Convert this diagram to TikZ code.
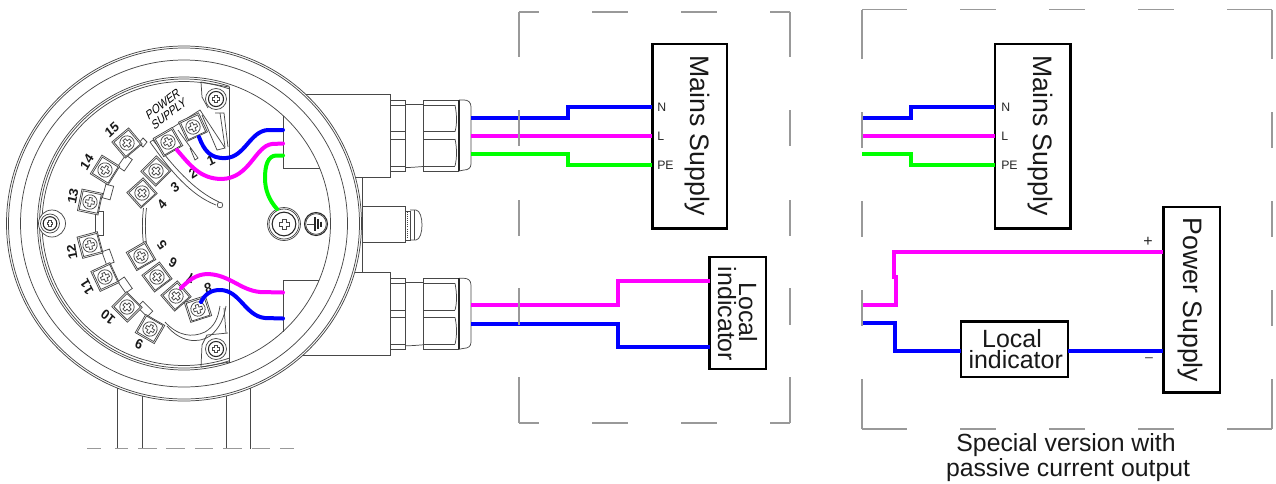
\documentclass[tikz,border=0pt]{standalone}
\usepackage{fontspec}
\setmainfont{Liberation Sans}
\definecolor{wb}{RGB}{0,0,255}
\definecolor{wm}{RGB}{255,0,255}
\definecolor{wg}{RGB}{0,255,0}
\tikzset{
  ln/.style={draw=black!72,line width=0.55pt},
  lnd/.style={draw=black!85,line width=0.8pt},
  frame/.style={draw=black!40,line width=0.85pt},
  wireb/.style={draw=wb,line width=3pt,line join=miter},
  wirem/.style={draw=wm,line width=3pt,line join=miter},
  wireg/.style={draw=wg,line width=3pt,line join=miter},
  wirec/.style={line width=3pt,line cap=round},
  boxn/.style={draw=black,line width=2.1pt,inner sep=0pt,outer sep=0pt,fill=white},
  bigt/.style={font=\fontsize{20}{20}\selectfont,inner sep=0pt,text=black!90},
  midt/.style={font=\fontsize{18.7}{18.7}\selectfont,inner sep=0pt,text=black!90},
  capt/.style={font=\fontsize{18.6}{18.6}\selectfont,inner sep=0pt,text=black!90,anchor=base},
  pint/.style={font=\fontsize{9.2}{9.2}\selectfont,inner sep=0pt,anchor=west,text=black!85},
  numt/.style={font=\fontsize{10.5}{10.5}\selectfont\bfseries,inner sep=0pt,text=black!90,xscale=0.9},
  tagt/.style={font=\fontsize{10}{10}\selectfont,inner sep=0pt,text=black,xscale=0.72},
}
\newcommand{\plusmark}[5]{%
  \begin{scope}[shift={(#1,#2)},rotate=#3]
    \draw[ln] (-#5,-#4) -- (#5,-#4) -- (#5,-#5) -- (#4,-#5) -- (#4,#5) -- (#5,#5) -- (#5,#4) -- (-#5,#4) -- (-#5,#5) -- (-#4,#5) -- (-#4,-#5) -- (-#5,-#5) -- cycle;
  \end{scope}}
\newcommand{\termblock}[3]{%
  \begin{scope}[shift={(#1,#2)},rotate=#3]
    \draw[ln,fill=white] (-11,-10.5) rectangle (11,10.5);
    \draw[ln] (-9.5,-9) rectangle (9.5,9.5);
    \draw[ln] (0,0) circle [radius=7.2];
  \end{scope}
  \plusmark{#1}{#2}{#3}{4.4}{1.5}}
\newcommand{\screwpart}[3]{%
  \draw[ln,fill=white] (#1,#2) circle [radius=#3];
  \draw[lnd] (#1,#2) circle [radius=#3*0.72];
  \plusmark{#1}{#2}{0}{#3*0.3}{#3*0.12}}
\newcommand{\glandpart}[1]{%
  \begin{scope}[shift={(0,#1)}]
    \draw[ln] (390,100) rectangle (405,171);
    \foreach \yy in {105,131.7,139,166}{\draw[ln] (390,\yy) -- (405,\yy);}
    \draw[ln] (405,104.5) -- (423,104.5);
    \draw[ln] (405,167.5) .. controls (412,167.5) and (416,167) .. (423,166.5);
    \draw[ln] (423,100) rectangle (458,171);
    \foreach \yy in {105,131.7,139,166}{\draw[ln] (423,\yy) -- (455,\yy);}
    \draw[ln] (455,105) .. controls (457,115) and (457,125) .. (455,131.7);
    \draw[ln] (455,139) .. controls (457,148) and (457,158) .. (455,166);
    \draw[draw=black!85,line width=1.4pt] (459,100) -- (459,171);
    \draw[ln] (459,100) -- (464,100) .. controls (468,100) and (471,102) .. (471,107) -- (471,164) .. controls (471,168) and (468,170) .. (464,170) -- (459,171);
  \end{scope}}
\begin{document}
\begin{tikzpicture}[x=0.75pt,y=-0.75pt]
\useasboundingbox (0,0) rectangle (1276,483);
% housings outside the round body
\draw[ln] (305,94) -- (390,94) -- (390,177.7) -- (355,177.7);
\draw[ln] (354.7,272) -- (390,272) -- (390,355) -- (303,355);
\draw[ln] (362.7,177.7) -- (362.7,272);
\draw[ln] (362,206) -- (405,206) -- (405,242.7) -- (362,242.7);
\draw[ln] (405,211) -- (410,211) -- (410,240) -- (405,240);
\draw[ln,densely dotted,line width=1pt] (407.5,212) -- (407.5,238);
\draw[ln] (410,210) -- (416,210) .. controls (424,211) and (424,239) .. (416,240) -- (410,240);
\draw[ln] (414,210) -- (414,240);
\glandpart{0}
\glandpart{178.3}
% round body
\draw[ln,fill=white] (184,223.5) circle [radius=177.5];
\draw[ln] (184,223.5) circle [radius=175.5];
\draw[ln] (184,223.5) circle [radius=163.5];
\draw[ln] (184,223.5) circle [radius=146.5];
\begin{scope}
  \clip (0,0) rectangle (229.5,483);
  \draw[ln] (184,223.5) circle [radius=144.5];
  \draw[ln] (184,223.5) circle [radius=142];
\end{scope}
\draw[draw=black!72,line width=1.2pt] (229.5,87) -- (229.5,363);
% inner housing edges
\draw[ln] (283,115.5) -- (283,168.7) -- (320,168.7);
\draw[ln] (319,280.7) -- (283,280.7) -- (283,331.5);
% legs and dashed base
\draw[ln] (117.5,388) -- (117.5,448.7);
\draw[ln] (142.5,396) -- (142.5,448.7);
\draw[ln] (226,396) -- (226,448.7);
\draw[ln] (250.5,388) -- (250.5,448.7);
\foreach \a/\b in {87/101,115/128,138/157,166/185,195/213,223/242,252/270,280/294}{\draw[frame] (\a,448.7) -- (\b,448.7);}
% corner plates and screws
\draw[ln] (229,87) -- (201,82) -- (202,97) -- (208,108);
\draw[ln] (201,367) -- (229.5,362);
\draw[ln] (201,367) -- (202,345) -- (207,335) -- (228,333);
\draw[ln] (215,113) -- (224,113) -- (228,147);
\draw[ln] (220,113) -- (225,147);
\screwpart{216}{99}{10.5}
\screwpart{216}{349}{10.5}
\draw[ln,fill=white] (52,223.5) circle [radius=13.5];
\screwpart{50}{223.5}{9.5}
\screwpart{284}{224}{16.5}
\draw[ln] (284,224) circle [radius=15];
% earth symbol
\draw[lnd] (316,224) circle [radius=11.5];
\draw[ln] (316,224) circle [radius=10.3];
\draw[ln] (307,224) -- (315,224);
\draw[lnd] (315,217) -- (315,231);
\draw[lnd] (318,219) -- (318,229);
\draw[lnd] (321,221.5) -- (321,226.5);
% top block
\draw[ln] (150,142) -- (200,110) -- (225,148) -- (217,150) -- (202,115);
\draw[ln] (178,130) -- (198,158) -- (195,160) -- (190,148);
\draw[ln] (150,142) .. controls (170,170) and (190,195) .. (216,205);
\draw[ln] (153,140) .. controls (173,166) and (193,190) .. (219,202);
\draw[ln,fill=white] (220,205) circle [radius=2.8];
\draw[ln] (139,143) -- (143,138) -- (147,142) -- (143,147) -- cycle;
% lower strip
\draw[ln] (165,322) .. controls (178,336) and (192,338) .. (205,332) .. controls (215,326) and (218,318) .. (220,306);
\draw[ln] (167,326) .. controls (180,342) and (198,344) .. (210,336) .. controls (220,328) and (224,318) .. (226,306);
\draw[ln] (224,308) -- (226,333);
\draw[ln] (143.5,208) .. controls (142,220) and (142,232) .. (143.5,244);
\draw[ln] (146.5,208) .. controls (145,220) and (145,232) .. (146.5,244);
% connector strips between terminals
\foreach \xx/\yy/\rr/\hh in {125/163/-35/7,108/192/-15/7,99/223/0/12,108/257/20/7,125/285/35/7,145/309/45/7}{
  \begin{scope}[shift={(\xx,\yy)},rotate=\rr]
    \draw[ln,fill=white] (-4,-\hh) rectangle (4,\hh);
  \end{scope}}
% terminals
\termblock{127}{143}{40}
\termblock{105}{170}{58}
\termblock{90}{202}{78}
\termblock{90}{245}{105}
\termblock{105}{277}{115}
\termblock{127}{307}{135}
\termblock{150}{329}{150}
\termblock{193}{127}{25}
\termblock{168}{142}{30}
\termblock{156}{171}{45}
\termblock{142}{193}{42}
\termblock{141}{256}{30}
\termblock{157}{277}{37}
\termblock{176}{296}{41}
\termblock{198}{309}{18}
% numbers
\node[numt,rotate=40] (n15) at (112,130) {15};
\node[numt,rotate=58] (n14) at (87,162) {14};
\node[numt,rotate=78] (n13) at (73,196) {13};
\node[numt,rotate=100] (n12) at (72,252) {12};
\node[numt,rotate=120] (n11) at (87,287) {11};
\node[numt,rotate=140] (n10) at (108,317) {10};
\node[numt,rotate=155] (n9) at (139,344) {9};
\node[numt,rotate=25] (n1) at (211,160) {1};
\node[numt,rotate=30] (n2) at (193,173) {2};
\node[numt,rotate=35] (n3) at (175,187) {3};
\node[numt,rotate=50] (n4) at (162,204) {4};
\node[numt,rotate=125] (n5) at (162,245) {5};
\node[numt,rotate=150] (n6) at (173,263) {6};
\node[numt,rotate=165] (n7) at (190,278) {7};
\node[numt,rotate=195] (n8) at (208,288) {8};
\node[tagt,rotate=29] (tagp) at (163,104) {POWER};
\node[tagt,rotate=29] (tags) at (169,113.5) {SUPPLY};
% inner wires
\draw[wirec,wb] (283,130) -- (268,130) .. controls (250,131) and (245,157) .. (226,158) .. controls (210,159) and (204,150) .. (199,137);
\draw[wirec,wm] (283,143.5) -- (272,144) .. controls (255,146) and (250,178) .. (222,179) .. controls (200,179) and (190,165) .. (177,150);
\draw[wirec,wg] (283,155.5) -- (276,155.5) .. controls (268,156) and (265,165) .. (265,178) .. controls (265,190) and (269,200) .. (277,209);
\draw[wirec,wm] (283,292.5) -- (260,292) .. controls (240,290) and (230,275) .. (208,274) .. controls (196,274) and (188,281) .. (181,288);
\draw[wirec,wb] (283,318.5) -- (265,318) .. controls (245,316) and (240,290) .. (220,290) .. controls (211,290) and (205,294) .. (201,302);
% boxes
\node[boxn,minimum width=56pt,minimum height=138.6pt] (mainsa) at (689.7,136.3) {};
\node[boxn,minimum width=56.8pt,minimum height=138.6pt] (mainsb) at (1032.9,136.3) {};
\node[boxn,minimum width=42.2pt,minimum height=84pt] (locala) at (737.9,313) {};
\node[boxn,minimum width=80.3pt,minimum height=41.6pt] (localb) at (1014.5,349.3) {};
\node[boxn,minimum width=42.5pt,minimum height=139.3pt] (psu) at (1191.7,299.9) {};
\coordinate (gan) at (471,118);
\coordinate (gal) at (471,136);
\coordinate (gap) at (471,153.5);
\coordinate (gbm) at (471,304.5);
\coordinate (gbb) at (471,324);
\coordinate (can) at (862,118);
\coordinate (cal) at (862,136);
\coordinate (cap) at (862,153.5);
\coordinate (cbm) at (862,304.7);
\coordinate (cbb) at (862,323);
% external wires
\draw[wireb] (gan) -- (568,118) -- (568,107) -- (mainsa.west |- 0,107);
\draw[wirem] (gal) -- (mainsa.west |- gal);
\draw[wireg] (gap) -- (568,153.5) -- (568,165) -- (mainsa.west |- 0,165);
\draw[wireb] (can) -- (911,118) -- (911,107) -- (mainsb.west |- 0,107);
\draw[wirem] (cal) -- (mainsb.west |- cal);
\draw[wireg] (cap) -- (911,153.5) -- (911,165) -- (mainsb.west |- 0,165);
\draw[wirem] (gbm) -- (618,304.5) -- (618,280.7) -- (locala.west |- 0,280.7);
\draw[wireb] (gbb) -- (618,324) -- (618,347) -- (locala.west |- 0,347);
\draw[wirem] (cbm) -- (896,304.7) -- (896,277) -- (894,277) -- (894,252) -- (psu.west |- 0,252);
\draw[wireb] (cbb) -- (895,323) -- (895,350.7) -- (localb.west |- 0,350.7);
\draw[wireb] (localb.east |- 0,350.7) -- (psu.west |- 0,350.7);
% box texts
\node[bigt,rotate=-90] (tma) at (697.5,135.5) {Mains Supply};
\node[bigt,rotate=-90] (tmb) at (1040.8,135.5) {Mains Supply};
\node[bigt,rotate=-90] (tps) at (1190.5,300) {Power Supply};
\node[midt,rotate=-90] (tla) at (748,312.5) {Local};
\node[midt,rotate=-90] (tlb) at (727,314) {indicator};
\node[midt] (tlc) at (1012,338.5) {Local};
\node[midt] (tld) at (1015.7,360) {indicator};
\node[pint] (pn) at (657,107) {N};
\node[pint] (pl) at (657,136) {L};
\node[pint] (pe) at (657,165) {PE};
\node[pint] (qn) at (1001,107) {N};
\node[pint] (ql) at (1001,136) {L};
\node[pint] (qe) at (1001,165) {PE};
\node[pint,anchor=center,font=\fontsize{12}{12}\selectfont] (plus) at (1148,242) {+};
\node[pint,anchor=center,font=\fontsize{12}{12}\selectfont,text=black!65] (minus) at (1149,361) {−};
\node[capt] (capa) at (1066,451.7) {Special version with};
\node[capt] (capb) at (1068,476.7) {passive current output};
% dashed frames
\foreach \a/\b in {519/539,592/628,681/717,770/790}{
  \draw[frame] (\a,12) -- (\b,12);
  \draw[frame] (\a,423) -- (\b,423);}
\foreach \a/\b in {12/57,110/146,200/236,288/325,377/423}{
  \draw[frame] (519,\a) -- (519,\b);
  \draw[frame] (790,\a) -- (790,\b);}
\foreach \a/\b in {862/907,960/996,1049/1085,1138/1174,1227/1272}{
  \draw[frame] (\a,9.5) -- (\b,9.5);
  \draw[frame] (\a,429) -- (\b,429);}
\foreach \a/\b in {9.5/59,112/148,201/237,290/326,379/429}{
  \draw[frame] (862,\a) -- (862,\b);
  \draw[frame] (1272,\a) -- (1272,\b);}
\end{tikzpicture}
\end{document}
